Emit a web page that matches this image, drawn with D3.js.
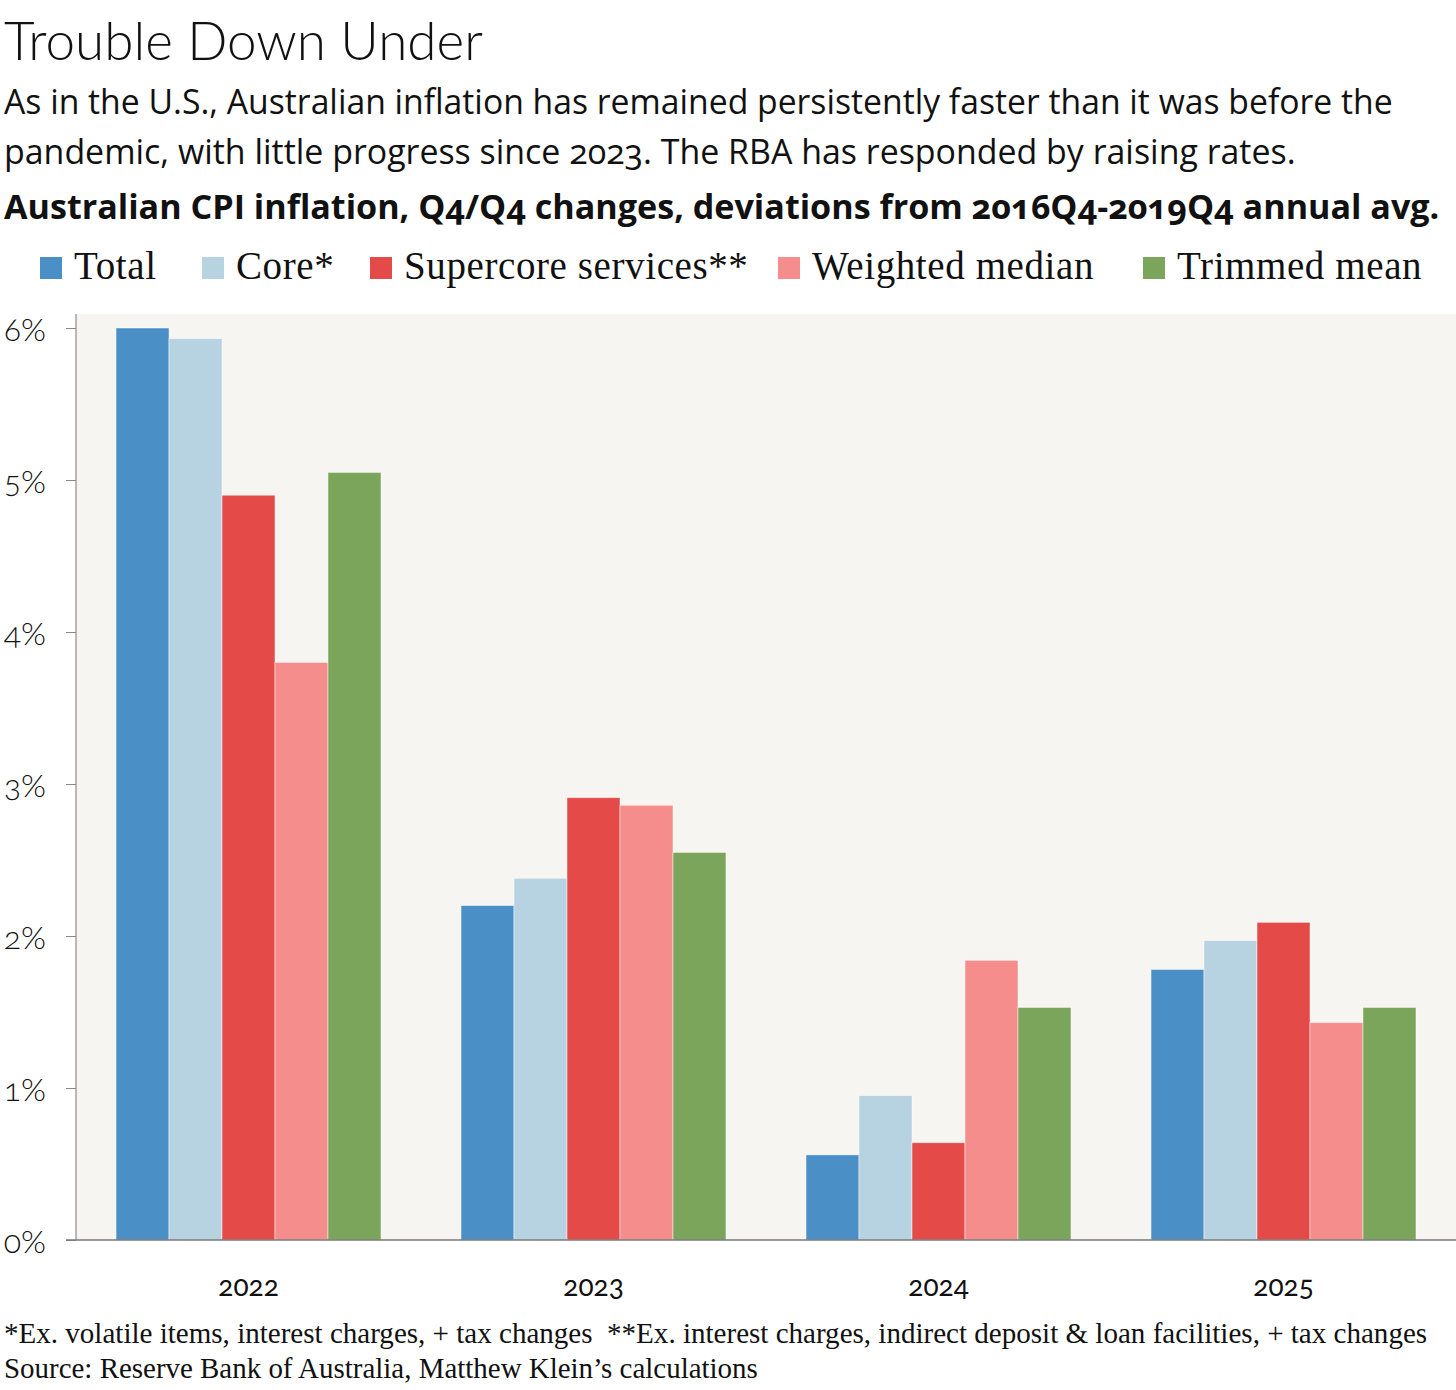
<!DOCTYPE html>
<html>
<head>
<meta charset="utf-8">
<script src="https://cdn.jsdelivr.net/npm/d3@7"></script>
<style>
  body { margin: 0; background: #fff; }
  svg text { fill: #111; }
</style>
</head>
<body>
<svg id="chart" width="1456" height="1390"></svg>
<script>
let svg = d3.select("#chart");
let width = +svg.attr("width");
let height = +svg.attr("height");

//! DATA
let years = ["2022", "2023", "2024", "2025"];
let seriesNames = ["Total", "Core*", "Supercore services**", "Weighted median", "Trimmed mean"];
let total = [6.00, 2.20, 0.56, 1.78];
let core = [5.93, 2.38, 0.95, 1.97];
let supercore = [4.90, 2.91, 0.64, 2.09];
let weightedMedian = [3.80, 2.86, 1.84, 1.43];
let trimmedMean = [5.05, 2.55, 1.53, 1.53];
let yTicks = [0, 1, 2, 3, 4, 5, 6];

let seriesValues = [total, core, supercore, weightedMedian, trimmedMean];
let colors = ["#4a8fc5", "#b7d2e1", "#e44a47", "#f58d8c", "#7ba55a"];

let rows = years.map((y, i) => ({
    year: y,
    values: seriesNames.map((s, j) => ({ key: s, value: seriesValues[j][i] }))
}));

//? shrink or grow a text's font so it spans a given width
function fitWidth(sel, target) {
    sel.each(function () {
        let t = d3.select(this);
        let fs = parseFloat(t.style("font-size"));
        let w = this.getComputedTextLength();
        t.style("font-size", (fs * target / w) + "px");
    });
}

//? Layout
let plot = { left: 76, right: 1456, top: 314, bottom: 1240 };

let x0 = d3.scaleBand()
    .domain(years)
    .range([plot.left, plot.right])
    .paddingInner(0.232)
    .paddingOuter(0.116);

let x1 = d3.scaleBand()
    .domain(seriesNames)
    .range([0, x0.bandwidth()]);

let y = d3.scaleLinear()
    .domain([0, 6])
    .range([plot.bottom, 328]);

let color = d3.scaleOrdinal().domain(seriesNames).range(colors);

//? Titles
svg.append("text")
    .attr("x", 4).attr("y", 60)
    .style("font-family", "Lato")
    .style("font-weight", 300)
    .style("font-size", "50px")
    .text("Trouble Down Under")
    .call(fitWidth, 479);

let sub = ["As in the U.S., Australian inflation has remained persistently faster than it was before the",
    "pandemic, with little progress since 2023. The RBA has responded by raising rates."];
let subTargets = [1389, 1292];
svg.append("g").selectAll("text")
    .data(sub)
    .enter()
    .append("text")
    .attr("x", 4)
    .attr("y", (d, i) => 114 + i * 50)
    .style("font-family", "Open Sans")
    .style("font-weight", 400)
    .style("font-size", "33px")
    .style("font-variant-numeric", "oldstyle-nums")
    .text(d => d)
    .each(function (d, i) { d3.select(this).call(fitWidth, subTargets[i]); });

svg.append("text")
    .attr("x", 4).attr("y", 219)
    .style("font-family", "Open Sans")
    .style("font-weight", 700)
    .style("font-size", "32px")
    .style("font-variant-numeric", "oldstyle-nums")
    .text("Australian CPI inflation, Q4/Q4 changes, deviations from 2016Q4-2019Q4 annual avg.")
    .call(fitWidth, 1436);

//? Legend
let legendX = [40, 202, 370, 778, 1143];
let legend = svg.append("g")
    .selectAll("g")
    .data(seriesNames)
    .enter()
    .append("g")
    .attr("transform", (d, i) => "translate(" + legendX[i] + ",257)");

legend.append("rect")
    .attr("width", 22).attr("height", 22)
    .attr("fill", d => color(d));

legend.append("text")
    .attr("x", 34).attr("y", 22)
    .style("font-family", "Liberation Serif")
    .style("font-size", "39px")
    .style("letter-spacing", "0.6px")
    .text(d => d);

//? Plot background
svg.append("rect")
    .attr("x", plot.left).attr("y", plot.top)
    .attr("width", plot.right - plot.left)
    .attr("height", plot.bottom - plot.top)
    .attr("fill", "#f7f5f1");

//? Bars
svg.append("g")
    .selectAll("g")
    .data(rows)
    .enter()
    .append("g")
    .attr("transform", d => "translate(" + x0(d.year) + ",0)")
    .selectAll("rect")
    .data(d => d.values)
    .enter()
    .append("rect")
    .attr("x", d => x1(d.key))
    .attr("y", d => y(d.value))
    .attr("width", x1.bandwidth())
    .attr("height", d => y(0) - y(d.value))
    .attr("fill", d => color(d.key))
    .attr("stroke", "#fff")
    .attr("stroke-width", 0.8)
    .attr("stroke-opacity", 0.6);

//? Axes
let yAxis = svg.append("g")
    .attr("transform", "translate(" + plot.left + ",0)")
    .call(d3.axisLeft(y).tickValues(yTicks).tickSize(10).tickPadding(20).tickFormat(d => d + "%"));
yAxis.select(".domain").attr("stroke", "#777").attr("d", "M0," + plot.top + "V" + plot.bottom);
yAxis.selectAll(".tick line").attr("stroke", "#888");
yAxis.selectAll(".tick text")
    .attr("dy", "0.38em")
    .style("font-family", "Lato")
    .style("font-weight", 300)
    .style("font-size", "32px")
    .style("font-variant-numeric", "oldstyle-nums")
    .style("fill", "#111");

let xAxis = svg.append("g")
    .attr("transform", "translate(0," + plot.bottom + ")")
    .call(d3.axisBottom(x0).tickSize(0).tickPadding(36));
xAxis.select(".domain").attr("stroke", "#777").attr("stroke-width", 1.5)
    .attr("d", "M" + (plot.left - 10) + ",0H" + plot.right);
xAxis.selectAll(".tick text")
    .style("font-family", "Lato")
    .style("font-weight", 400)
    .style("font-size", "28px")
    .style("font-variant-numeric", "oldstyle-nums")
    .style("fill", "#111");

//? Notes
let notes = ["*Ex. volatile items, interest charges, + tax changes  **Ex. interest charges, indirect deposit & loan facilities, + tax changes",
    "Source: Reserve Bank of Australia, Matthew Klein\u2019s calculations"];
let noteTargets = [1424, 754];
svg.append("g").selectAll("text")
    .data(notes)
    .enter()
    .append("text")
    .attr("x", 4)
    .attr("y", (d, i) => 1343 + i * 35)
    .style("font-family", "Liberation Serif")
    .style("font-size", "27px")
    .style("white-space", "pre")
    .text(d => d)
    .each(function (d, i) { d3.select(this).call(fitWidth, noteTargets[i]); });
</script>
</body>
</html>
